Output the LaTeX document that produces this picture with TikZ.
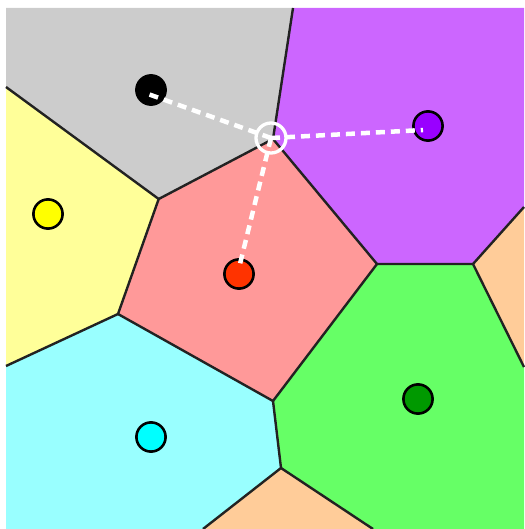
\documentclass[tikz,border=0pt]{standalone}
\usepackage{xcolor}
\usepackage{tikz}

\definecolor{cellgray}{HTML}{CCCCCC}
\definecolor{cellyellow}{HTML}{FFFF99}
\definecolor{cellpurple}{HTML}{CC66FF}
\definecolor{cellred}{HTML}{FF9999}
\definecolor{cellgreen}{HTML}{66FF66}
\definecolor{cellcyan}{HTML}{99FFFF}
\definecolor{cellorange}{HTML}{FFCC99}
\definecolor{siteyellow}{HTML}{FFFF00}
\definecolor{sitepurple}{HTML}{9900FF}
\definecolor{sitered}{HTML}{FF3300}
\definecolor{sitegreen}{HTML}{009900}
\definecolor{sitecyan}{HTML}{00FFFF}
\definecolor{edgeline}{HTML}{222222}

\begin{document}
\begin{tikzpicture}[
    x=1pt, y=-1pt,
    edge/.style={draw=edgeline, line width=2.4pt, line join=round},
    site/.style={draw=black, line width=2.6pt},
    probe/.style={draw=white, line width=4.5pt, dash pattern=on 9pt off 6pt},
  ]
  \useasboundingbox (0,0) rectangle (524,529);

  %% ---- Voronoi vertices -------------------------------------------------
  \coordinate (vA) at (158.7,199);
  \coordinate (vB) at (273,139);
  \coordinate (vC) at (377,264);
  \coordinate (vD) at (473,264);
  \coordinate (vE) at (273,401);
  \coordinate (vF) at (281,468);
  \coordinate (vG) at (118,314);

  %% ---- cells --------------------------------------------------------------
  \fill[cellgray]   (6,8) -- (293,8) -- (vB) -- (vA) -- (6,87) -- cycle;
  \fill[cellpurple] (293,8) -- (524,8) -- (524,207) -- (vD) -- (vC) -- (vB) -- cycle;
  \fill[cellorange] (524,207) -- (vD) -- (524,367) -- cycle;
  \fill[cellgreen]  (vC) -- (vD) -- (524,367) -- (524,529) -- (373,529) -- (vF) -- (vE) -- cycle;
  \fill[cellred]    (vB) -- (vC) -- (vE) -- (vG) -- (vA) -- cycle;
  \fill[cellyellow] (6,87) -- (vA) -- (vG) -- (6,366) -- cycle;
  \fill[cellcyan]   (6,366) -- (vG) -- (vE) -- (vF) -- (203,529) -- (6,529) -- cycle;
  \fill[cellorange] (vF) -- (373,529) -- (203,529) -- cycle;

  %% ---- cell edges ---------------------------------------------------------
  \draw[edge] (293,8) -- (vB) -- (vA) -- (6,87);
  \draw[edge] (vA) -- (vG) -- (6,366);
  \draw[edge] (vB) -- (vC) -- (vD) -- (524,207);
  \draw[edge] (vD) -- (524,367);
  \draw[edge] (vC) -- (vE) -- (vG);
  \draw[edge] (vE) -- (vF) -- (203,529);
  \draw[edge] (vF) -- (373,529);

  %% ---- sites --------------------------------------------------------------
  \coordinate (sBlack)  at (151,90);
  \coordinate (sYellow) at (48,214);
  \coordinate (sRed)    at (239,274);
  \coordinate (sPurple) at (428,126);
  \coordinate (sGreen)  at (418,399);
  \coordinate (sCyan)   at (151,437);

  \filldraw[site, fill=black]      (sBlack)  circle (14.6);
  \filldraw[site, fill=siteyellow] (sYellow) circle (14.6);
  \filldraw[site, fill=sitered]    (sRed)    circle (14.6);
  \filldraw[site, fill=sitepurple] (sPurple) circle (14.6);
  \filldraw[site, fill=sitegreen]  (sGreen)  circle (14.6);
  \filldraw[site, fill=sitecyan]   (sCyan)   circle (14.6);

  %% ---- query point and its nearest sites ----------------------------------
  \coordinate (query) at (271,138);
  \draw[probe] (query) -- (148,94);
  \draw[probe] (query) -- (423,130);
  \draw[probe] (query) -- (239,268);
  \draw[white, line width=3.3pt] (query) circle (15);
\end{tikzpicture}
\end{document}
